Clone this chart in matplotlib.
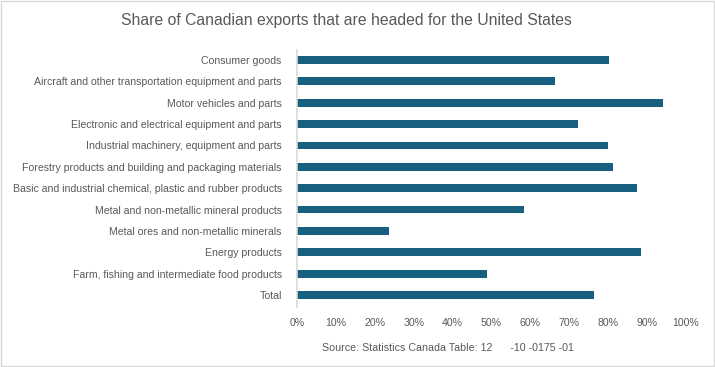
import matplotlib.pyplot as plt
from matplotlib.patches import Rectangle
from matplotlib.ticker import PercentFormatter

# categories from top to bottom as shown
categories = [
    "Consumer goods",
    "Aircraft and other transportation equipment and parts",
    "Motor vehicles and parts",
    "Electronic and electrical equipment and parts",
    "Industrial machinery, equipment and parts",
    "Forestry products and building and packaging materials",
    "Basic and industrial chemical, plastic and rubber products",
    "Metal and non-metallic mineral products",
    "Metal ores and non-metallic minerals",
    "Energy products",
    "Farm, fishing and intermediate food products",
    "Total",
]
share_us = [80.2, 66.3, 94.1, 72.3, 80.0, 81.3, 87.4, 58.4, 23.7, 88.5, 48.9, 76.4]
xticks = [0, 10, 20, 30, 40, 50, 60, 70, 80, 90, 100]

plt.rcParams['font.family'] = ['Liberation Sans', 'DejaVu Sans']

text_col = '#595959'
bar_col = '#17607f'

fig = plt.figure(figsize=(7.15, 3.67), dpi=100)
ax = fig.add_axes([0.4154, 0.1643, 0.5436, 0.6995])

ypos = list(range(len(categories)))[::-1]
ax.barh(ypos, share_us, height=0.37, color=bar_col)

ax.set_xlim(0, 100)
ax.set_ylim(-0.55, 11.47)
ax.set_xticks(xticks)
ax.xaxis.set_major_formatter(PercentFormatter(decimals=0))
ax.set_yticks(ypos)
ax.set_yticklabels(categories)
ax.tick_params(axis='both', length=0, labelsize=7.6, colors=text_col)
ax.tick_params(axis='y', pad=11)
ax.tick_params(axis='x', pad=8)

for s in ['top', 'right', 'bottom']:
    ax.spines[s].set_visible(False)
ax.spines['left'].set_color('#d9d9d9')
ax.spines['left'].set_linewidth(1.2)

fig.text(0.485, 0.945, "Share of Canadian exports that are headed for the United States",
         ha='center', va='center', fontsize=11.3, color=text_col)
fig.text(0.626, 0.052, "Source: Statistics Canada Table: 12      -10 -0175 -01",
         ha='center', va='center', fontsize=7.7, color=text_col)

fig.patches.append(Rectangle((0.001, 0.002), 0.997, 0.995, transform=fig.transFigure,
                             fill=False, edgecolor='#d9d9d9', linewidth=1))

fig.savefig('out.png', dpi=100)
